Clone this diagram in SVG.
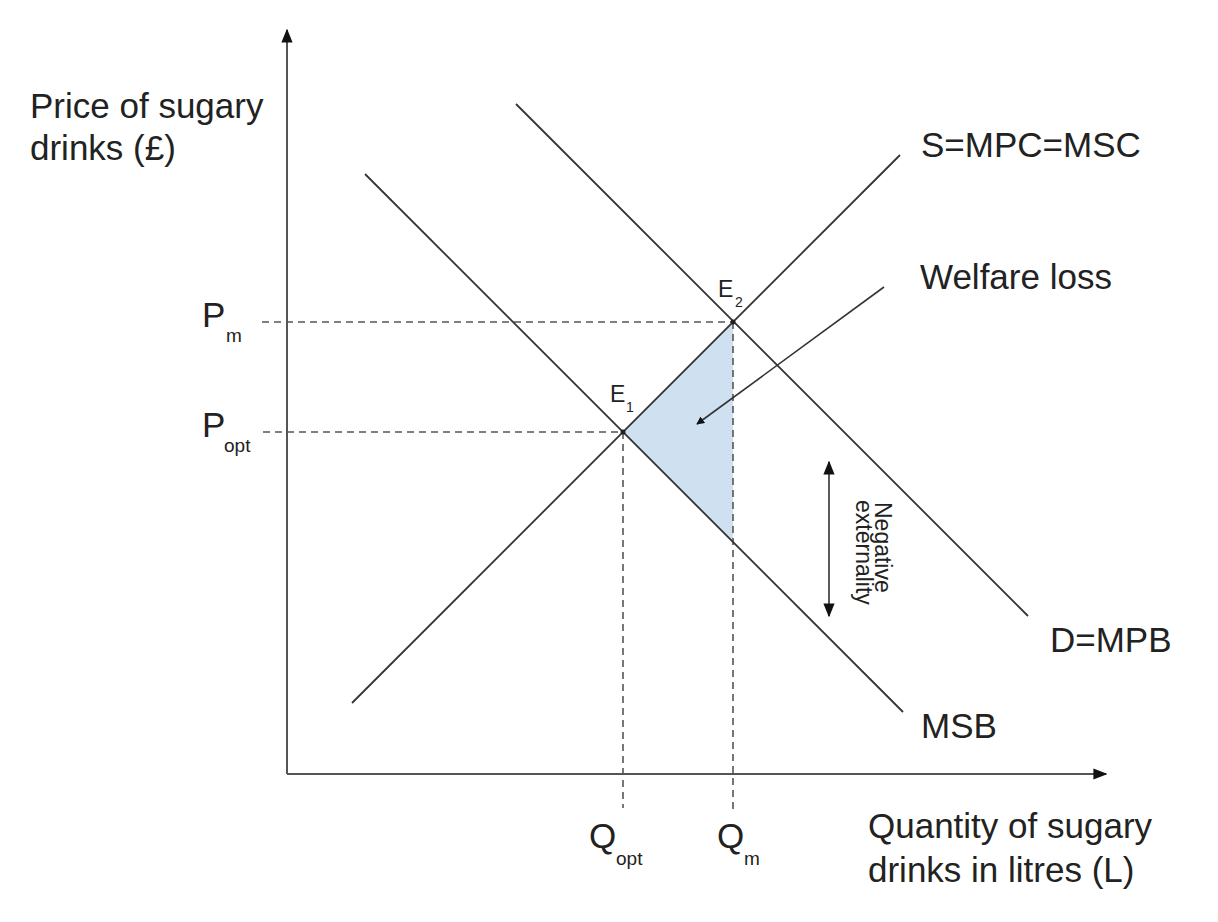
<svg xmlns="http://www.w3.org/2000/svg" width="1218" height="922" viewBox="0 0 1218 922">
<style>
text{font-family:"Liberation Sans",Arial,sans-serif;fill:#222}
.lbl{font-size:35px}
.sub{font-size:19px}
.esub{font-size:14px}
.ev{font-size:23px}
.rot{font-size:23px}
.curve{stroke:#333;stroke-width:1.8;fill:none}
.dash{stroke:#555;stroke-width:1.6;stroke-dasharray:7 5;fill:none}
.axis{stroke:#555;stroke-width:2;fill:none}
.arr{stroke:#333;stroke-width:1.6;fill:none}
</style>
<defs>
<marker id="ah" viewBox="0 0 10 10" refX="9" refY="5" markerWidth="8" markerHeight="8" markerUnits="userSpaceOnUse" orient="auto-start-reverse">
<path d="M0,0 L10,5 L0,10 z" fill="#111"/>
</marker>
<marker id="axh" viewBox="0 0 10 10" refX="9" refY="5" markerWidth="14" markerHeight="14" markerUnits="userSpaceOnUse" orient="auto">
<path d="M0,1 L10,5 L0,9 z" fill="#111"/>
</marker>
<marker id="ah2" viewBox="0 0 10 10" refX="9" refY="5" markerWidth="14" markerHeight="14" markerUnits="userSpaceOnUse" orient="auto-start-reverse">
<path d="M0,1 L10,5 L0,9 z" fill="#111"/>
</marker>
</defs>
<rect width="1218" height="922" fill="#fff"/>

<g id="welfare-loss-area">
<polygon points="623,432 733,322 733,542" fill="#cfe0f1"/>
</g>

<g id="axes">
<line class="axis" x1="287" y1="774" x2="287" y2="30" marker-end="url(#axh)"/>
<line class="axis" x1="287" y1="774" x2="1106" y2="774" marker-end="url(#axh)"/>
<text class="lbl" x="30" y="118">Price of sugary</text>
<text class="lbl" x="30" y="160">drinks (£)</text>
<text class="lbl" x="868" y="838">Quantity of sugary</text>
<text class="lbl" x="868" y="882">drinks in litres (L)</text>
</g>

<g id="connectors">
<line class="dash" x1="262" y1="322" x2="733" y2="322"/>
<line class="dash" x1="263" y1="432" x2="623" y2="432"/>
<line class="dash" x1="623" y1="432" x2="623" y2="808"/>
<line class="dash" x1="733" y1="322" x2="733" y2="810"/>
<line class="arr" x1="884" y1="287" x2="697" y2="424" marker-end="url(#ah)"/>
<line class="arr" x1="829" y1="462" x2="829" y2="616" marker-start="url(#ah2)" marker-end="url(#ah2)"/>
</g>

<g id="supply">
<line class="curve" x1="352" y1="703" x2="900" y2="155"/>
<text class="lbl" x="921" y="157">S=MPC=MSC</text>
</g>

<g id="msb">
<line class="curve" x1="365" y1="174" x2="903" y2="712"/>
<text class="lbl" x="921" y="738">MSB</text>
</g>

<g id="demand">
<line class="curve" x1="516" y1="104" x2="1028" y2="616"/>
<text class="lbl" x="1050" y="652">D=MPB</text>
</g>

<g id="welfare-loss-label">
<text class="lbl" x="920" y="289">Welfare loss</text>
</g>

<g id="negative-externality">
<text class="rot" transform="translate(875,502) rotate(90)">Negative</text>
<text class="rot" transform="translate(856,500) rotate(90)">externality</text>
</g>

<g id="e1">
<circle cx="623" cy="432" r="2.5" fill="#222"/>
<text class="ev" x="610" y="402">E</text>
<text class="esub" x="626" y="412">1</text>
</g>
<g id="e2">
<circle cx="733" cy="322" r="2.5" fill="#222"/>
<text class="ev" x="718" y="297">E</text>
<text class="esub" x="735" y="307">2</text>
</g>

<g id="pm">
<text class="lbl" x="202" y="327">P</text>
<text class="sub" x="226" y="342">m</text>
</g>
<g id="popt">
<text class="lbl" x="202" y="437">P</text>
<text class="sub" x="224" y="452">opt</text>
</g>
<g id="qopt">
<text class="lbl" x="589" y="848">Q</text>
<text class="sub" x="616" y="865">opt</text>
</g>
<g id="qm">
<text class="lbl" x="717" y="848">Q</text>
<text class="sub" x="744" y="865">m</text>
</g>
</svg>
